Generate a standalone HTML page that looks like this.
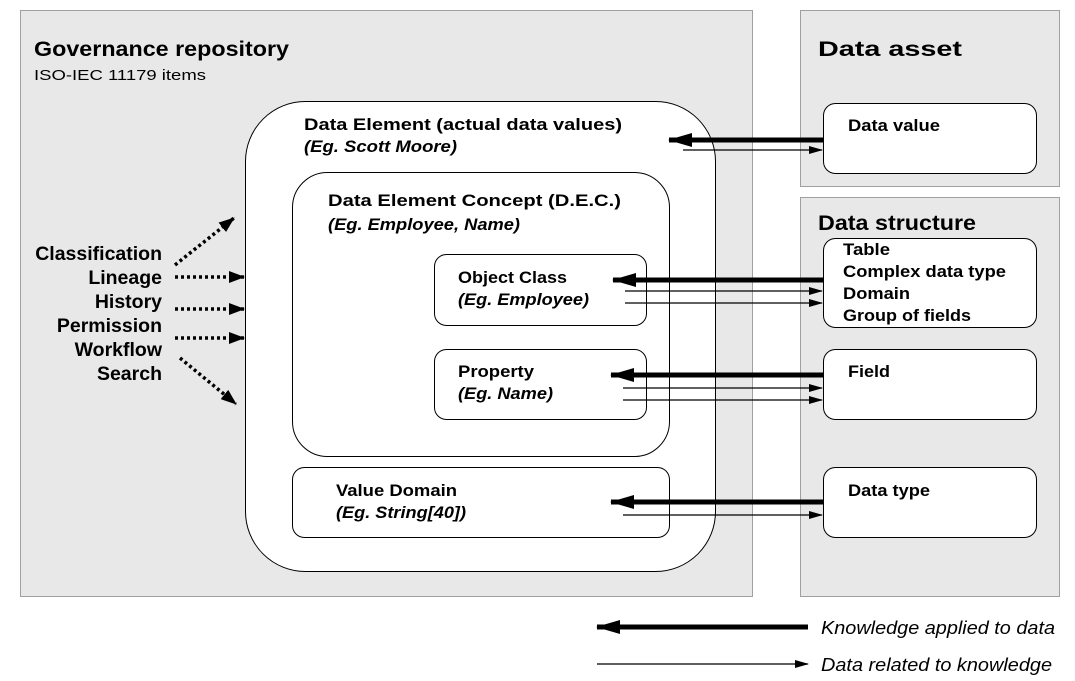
<!DOCTYPE html>
<html><head><style>body{margin:0;background:#fff}svg{display:block}text{font-family:"Liberation Sans",sans-serif}</style></head><body>
<svg width="1075" height="681" viewBox="0 0 1075 681" xmlns="http://www.w3.org/2000/svg">
<defs>
<marker id="ab" markerWidth="14" markerHeight="10" refX="13" refY="5" orient="auto" markerUnits="userSpaceOnUse"><path d="M0,1L14,5L0,9z" fill="#000"/></marker>
<marker id="at" markerWidth="24" markerHeight="16" refX="23" refY="8" orient="auto" markerUnits="userSpaceOnUse"><path d="M0,1L24,8L0,15z" fill="#000"/></marker>
<marker id="ad" markerWidth="16" markerHeight="12" refX="15" refY="6" orient="auto" markerUnits="userSpaceOnUse"><path d="M0,0L16,6L0,12z" fill="#000"/></marker>
</defs>
<rect x="20.5" y="10.5" width="732" height="586" fill="#e8e8e8" stroke="#a0a0a0"/>
<rect x="800.5" y="10.5" width="259" height="176" fill="#e8e8e8" stroke="#a0a0a0"/>
<rect x="800.5" y="197.5" width="259" height="399" fill="#e8e8e8" stroke="#a0a0a0"/>
<g font-weight="bold" font-size="21" lengthAdjust="spacingAndGlyphs">
<text x="34" y="56" textLength="255" lengthAdjust="spacingAndGlyphs">Governance repository</text>
<text x="818" y="56" textLength="144" lengthAdjust="spacingAndGlyphs">Data asset</text>
<text x="818" y="230" textLength="158" lengthAdjust="spacingAndGlyphs">Data structure</text>
</g>
<text x="34" y="80" font-size="15" textLength="172" lengthAdjust="spacingAndGlyphs">ISO-IEC 11179 items</text>
<rect x="245.5" y="101.5" width="470" height="470" rx="60" fill="#fff" stroke="#000"/>
<rect x="292.5" y="172.5" width="377" height="284" rx="35" fill="#fff" stroke="#000"/>
<rect x="434.5" y="254.5" width="212" height="71" rx="12" fill="#fff" stroke="#000"/>
<rect x="434.5" y="349.5" width="212" height="70" rx="12" fill="#fff" stroke="#000"/>
<rect x="292.5" y="467.5" width="377" height="70" rx="12" fill="#fff" stroke="#000"/>
<rect x="823.5" y="103.5" width="213" height="70" rx="12" fill="#fff" stroke="#000"/>
<rect x="823.5" y="238.5" width="213" height="89" rx="12" fill="#fff" stroke="#000"/>
<rect x="823.5" y="349.5" width="213" height="70" rx="12" fill="#fff" stroke="#000"/>
<rect x="823.5" y="467.5" width="213" height="70" rx="12" fill="#fff" stroke="#000"/>
<g font-size="17" font-weight="bold">
<text x="304" y="130" textLength="318" lengthAdjust="spacingAndGlyphs">Data Element (actual data values)</text>
<text x="304" y="152" font-style="italic" textLength="153" lengthAdjust="spacingAndGlyphs">(Eg. Scott Moore)</text>
<text x="328" y="206" textLength="293" lengthAdjust="spacingAndGlyphs">Data Element Concept (D.E.C.)</text>
<text x="328" y="230" font-style="italic" textLength="192" lengthAdjust="spacingAndGlyphs">(Eg. Employee, Name)</text>
<text x="458" y="283" textLength="109" lengthAdjust="spacingAndGlyphs">Object Class</text>
<text x="458" y="305" font-style="italic" textLength="131" lengthAdjust="spacingAndGlyphs">(Eg. Employee)</text>
<text x="458" y="377" textLength="76" lengthAdjust="spacingAndGlyphs">Property</text>
<text x="458" y="399" font-style="italic" textLength="95" lengthAdjust="spacingAndGlyphs">(Eg. Name)</text>
<text x="336" y="496" textLength="121" lengthAdjust="spacingAndGlyphs">Value Domain</text>
<text x="336" y="518" font-style="italic" textLength="130" lengthAdjust="spacingAndGlyphs">(Eg. String[40])</text>
<text x="848" y="131" textLength="92" lengthAdjust="spacingAndGlyphs">Data value</text>
<text x="843" y="255" textLength="47" lengthAdjust="spacingAndGlyphs">Table</text>
<text x="843" y="277" textLength="163" lengthAdjust="spacingAndGlyphs">Complex data type</text>
<text x="843" y="299" textLength="67" lengthAdjust="spacingAndGlyphs">Domain</text>
<text x="843" y="321" textLength="128" lengthAdjust="spacingAndGlyphs">Group of fields</text>
<text x="848" y="377" textLength="42" lengthAdjust="spacingAndGlyphs">Field</text>
<text x="848" y="496" textLength="82" lengthAdjust="spacingAndGlyphs">Data type</text>
<g font-size="19.5" text-anchor="end">
<text x="162" y="260">Classification</text>
<text x="162" y="284">Lineage</text>
<text x="162" y="308">History</text>
<text x="162" y="332">Permission</text>
<text x="162" y="356">Workflow</text>
<text x="162" y="380">Search</text>
</g>
</g>
<g stroke="#000" stroke-width="3.5" stroke-dasharray="3,3" fill="none">
<line x1="175" y1="265" x2="234" y2="218" marker-end="url(#ad)"/>
<line x1="175" y1="277" x2="244" y2="277" marker-end="url(#ad)"/>
<line x1="175" y1="309" x2="244" y2="309" marker-end="url(#ad)"/>
<line x1="175" y1="338" x2="244" y2="338" marker-end="url(#ad)"/>
<line x1="180" y1="358" x2="236" y2="404" marker-end="url(#ad)"/>
</g>
<g stroke="#000" stroke-width="5" fill="none">
<line x1="823" y1="140" x2="669" y2="140" marker-end="url(#at)"/>
<line x1="823" y1="280" x2="613" y2="280" marker-end="url(#at)"/>
<line x1="823" y1="375" x2="611" y2="375" marker-end="url(#at)"/>
<line x1="823" y1="502" x2="611" y2="502" marker-end="url(#at)"/>
<line x1="808" y1="627" x2="597" y2="627" marker-end="url(#at)"/>
</g>
<g stroke="#000" stroke-width="1.3" fill="none">
<line x1="683" y1="150" x2="822" y2="150" marker-end="url(#ab)"/>
<line x1="625" y1="291" x2="822" y2="291" marker-end="url(#ab)"/>
<line x1="625" y1="303" x2="822" y2="303" marker-end="url(#ab)"/>
<line x1="623" y1="388" x2="822" y2="388" marker-end="url(#ab)"/>
<line x1="623" y1="400" x2="822" y2="400" marker-end="url(#ab)"/>
<line x1="623" y1="515" x2="822" y2="515" marker-end="url(#ab)"/>
<line x1="597" y1="664" x2="808" y2="664" marker-end="url(#ab)"/>
</g>
<g font-size="18" font-style="italic">
<text x="821" y="634" textLength="234" lengthAdjust="spacingAndGlyphs">Knowledge applied to data</text>
<text x="821" y="671" textLength="231" lengthAdjust="spacingAndGlyphs">Data related to knowledge</text>
</g>
</svg>
</body></html>
